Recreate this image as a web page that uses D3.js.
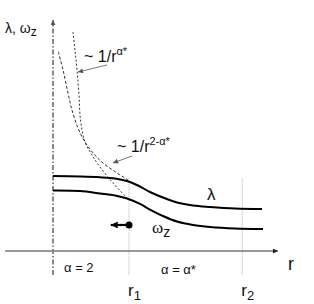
<!DOCTYPE html>
<html><head><meta charset="utf-8">
<script src="https://cdn.jsdelivr.net/npm/d3@7"></script>
<style>
html,body{margin:0;padding:0;background:#fff;}
svg{display:block;font-family:"Liberation Sans",Arial,sans-serif;}
</style></head>
<body>
<svg id="chart" width="314" height="304"></svg>
<script>
// ---- data (r, value) ----
const lambdaCurve = [[0,1.0],[0.355,0.993],[0.618,0.983],[0.816,0.967],[0.974,0.933],[1.118,0.873],[1.276,0.787],[1.447,0.713],[1.632,0.647],[1.842,0.607],[2.066,0.587],[2.395,0.567],[2.75,0.56]];
const omegaCurve  = [[0,0.807],[0.355,0.8],[0.618,0.767],[0.816,0.74],[0.974,0.7],[1.145,0.627],[1.276,0.553],[1.447,0.467],[1.632,0.393],[1.842,0.347],[2.066,0.32],[2.395,0.3],[2.763,0.293]];
const powerLawA   = [[0.07,2.657],[0.132,2.413],[0.197,2.107],[0.25,1.88],[0.329,1.64],[0.421,1.453],[0.539,1.293],[0.658,1.173],[0.842,1.04],[0.987,0.947]];
const powerLawB   = [[0.263,2.92],[0.289,2.68],[0.316,2.413],[0.342,2.08],[0.362,1.747],[0.421,1.453],[0.513,1.28],[0.618,1.12],[0.789,0.907],[0.974,0.707]];
const radiusTicks = [1, 2.49];
const radiusLabels = ["1", "2"];
const regionLabels = ["α = 2", "α = α*"];
const shiftArrow = [[1, 0.347], [0.76, 0.347]];

const svg = d3.select("#chart");
const x = d3.scaleLinear().domain([0, 1]).range([53, 129]);
const y = d3.scaleLinear().domain([0, 1]).range([251, 176]);

const defs = svg.append("defs");
function marker(id, w, h, color){
  defs.append("marker").attr("id", id).attr("viewBox","0 0 10 10")
    .attr("refX",10).attr("refY",5).attr("markerWidth",w).attr("markerHeight",h)
    .attr("markerUnits","userSpaceOnUse").attr("orient","auto")
    .append("path").attr("d","M0,0 L10,5 L0,10 Z").attr("fill",color);
}
marker("axArrow", 7, 5, "#222");
marker("axArrowV", 6, 5, "#555");
marker("lblArrow", 6, 5, "#555");
marker("boldArrow", 8, 7, "#000");

// r1, r2 dotted guides
svg.selectAll(".guide").data(radiusTicks).join("line")
  .attr("x1", d => x(d)).attr("x2", d => x(d))
  .attr("y1", y(0.97)).attr("y2", 275)
  .attr("stroke", "#b0b0b0").attr("stroke-width", 1).attr("stroke-dasharray", "1,1");

// horizontal axis r
svg.append("line").attr("x1", x(-0.63)).attr("x2", x(2.96)).attr("y1", y(0)).attr("y2", y(0))
  .attr("stroke", "#333").attr("stroke-width", 1).attr("marker-end", "url(#axArrow)");
// vertical dash-dot axis
svg.append("line").attr("x1", x(0)).attr("x2", x(0)).attr("y1", 275).attr("y2", y(3.08))
  .attr("stroke", "#888").attr("stroke-width", 2).attr("stroke-dasharray", "5,2,1.5,2")
  .attr("marker-end", "url(#axArrowV)");

// dashed power laws
const line = d3.line().x(d => x(d[0])).y(d => y(d[1])).curve(d3.curveCatmullRom.alpha(0.5));
svg.append("path").attr("d", line(powerLawA)).attr("fill","none")
  .attr("stroke","#333").attr("stroke-width",1).attr("stroke-dasharray","3,2");
svg.append("path").attr("d", line(powerLawB)).attr("fill","none")
  .attr("stroke","#333").attr("stroke-width",1).attr("stroke-dasharray","2,2");

// main curves
[lambdaCurve, omegaCurve].forEach(c => {
  svg.append("path").attr("d", line(c)).attr("fill","none")
    .attr("stroke","#000").attr("stroke-width",2);
});

// bold shift arrow
svg.append("line").attr("x1", x(shiftArrow[0][0])).attr("y1", y(shiftArrow[0][1]))
  .attr("x2", x(shiftArrow[1][0])).attr("y2", y(shiftArrow[1][1]))
  .attr("stroke","#000").attr("stroke-width",2.2).attr("marker-end","url(#boldArrow)");
svg.append("circle").attr("cx", x(shiftArrow[0][0])).attr("cy", y(shiftArrow[0][1])).attr("r",3.5).attr("fill","#000");

// label arrows
svg.append("line").attr("x1",107).attr("y1",65).attr("x2",78).attr("y2",72)
  .attr("stroke","#777").attr("stroke-width",1).attr("marker-end","url(#lblArrow)");
svg.append("line").attr("x1",132).attr("y1",156).attr("x2",113).attr("y2",163)
  .attr("stroke","#777").attr("stroke-width",1).attr("marker-end","url(#lblArrow)");

// texts
const t1 = svg.append("text").attr("x",5).attr("y",33).attr("font-size",14).attr("fill","#111");
t1.append("tspan").text("λ, ω");
t1.append("tspan").attr("font-size",12).attr("dy",3).text("z");

const t2 = svg.append("text").attr("x",84).attr("y",62).attr("font-size",16).attr("fill","#111");
t2.append("tspan").text("~ 1/r");
t2.append("tspan").attr("font-size",11).attr("dy",-7).text("α*");

const t3 = svg.append("text").attr("x",117).attr("y",152).attr("font-size",16).attr("fill","#111");
t3.append("tspan").text("~ 1/r");
t3.append("tspan").attr("font-size",11).attr("dy",-7).text("2-α*");

svg.append("text").attr("x",207).attr("y",200).attr("font-size",17).attr("fill","#111").text("λ");
const t4 = svg.append("text").attr("x",152).attr("y",233).attr("font-size",17).attr("fill","#111")
  .attr("font-family","'Liberation Serif',serif");
t4.append("tspan").text("ω");
t4.append("tspan").attr("font-family","'Liberation Sans',sans-serif").attr("font-size",14).attr("dy",4).text("z");

svg.append("text").attr("x",288).attr("y",270).attr("font-size",18).attr("fill","#111").text("r");

svg.append("text").attr("x",64).attr("y",272).attr("font-size",13).attr("fill","#111").text(regionLabels[0]);
svg.append("text").attr("x",161).attr("y",274).attr("font-size",13).attr("fill","#111").text(regionLabels[1]);

radiusTicks.forEach((d,i) => {
  const t = svg.append("text").attr("x", x(d) - 1).attr("y", 296).attr("font-size",17).attr("fill","#111");
  t.append("tspan").text("r");
  t.append("tspan").attr("font-size",13).attr("dy",4).text(radiusLabels[i]);
});
</script>
</body></html>
